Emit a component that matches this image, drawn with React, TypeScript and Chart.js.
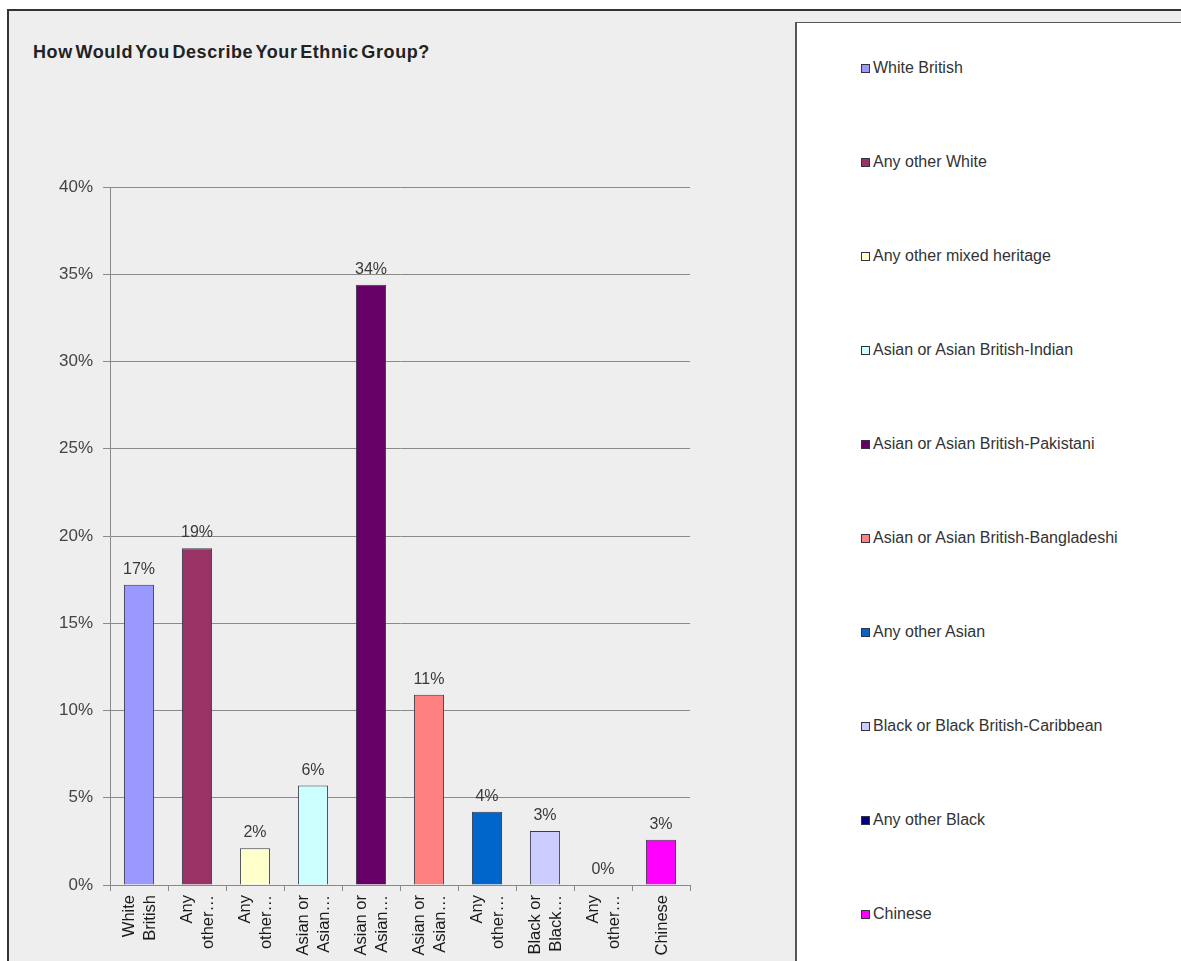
import React, { useEffect, useRef } from "react";
import { Chart, registerables } from "chart.js";

Chart.register(...registerables);

const categories = [
  "White British",
  "Any other White",
  "Any other mixed heritage",
  "Asian or Asian British-Indian",
  "Asian or Asian British-Pakistani",
  "Asian or Asian British-Bangladeshi",
  "Any other Asian",
  "Black or Black British-Caribbean",
  "Any other Black",
  "Chinese",
];

const tickLabels = [
  ["White", "British"],
  ["Any", "other…"],
  ["Any", "other…"],
  ["Asian or", "Asian…"],
  ["Asian or", "Asian…"],
  ["Asian or", "Asian…"],
  ["Any", "other…"],
  ["Black or", "Black…"],
  ["Any", "other…"],
  ["Chinese"],
];

const values = [17.2, 19.3, 2.1, 5.7, 34.4, 10.9, 4.2, 3.1, 0, 2.6];

const colors = [
  "#9999FF",
  "#993366",
  "#FFFFCC",
  "#CCFFFF",
  "#660066",
  "#FF8080",
  "#0066CC",
  "#CCCCFF",
  "#000080",
  "#FF00FF",
];

const yTicks = [0, 5, 10, 15, 20, 25, 30, 35, 40];

const FONT = "'Liberation Sans', Arial, sans-serif";

const valueLabels = {
  id: "valueLabels",
  afterDatasetsDraw(chart: any) {
    const ctx = chart.ctx;
    const meta = chart.getDatasetMeta(0);
    ctx.save();
    ctx.font = `16px ${FONT}`;
    ctx.fillStyle = "#3a3a3a";
    ctx.textAlign = "center";
    ctx.textBaseline = "alphabetic";
    meta.data.forEach((bar: any, i: number) => {
      ctx.fillText(Math.round(values[i]) + "%", bar.x, bar.y - 11);
    });
    ctx.restore();
  },
};

const xLabels = {
  id: "xLabels",
  afterDraw(chart: any) {
    const ctx = chart.ctx;
    const xs = chart.scales.x;
    const lh = 21;
    ctx.save();
    ctx.font = `16.5px ${FONT}`;
    ctx.fillStyle = "#1a1a1a";
    ctx.textAlign = "right";
    ctx.textBaseline = "middle";
    tickLabels.forEach((lines, i) => {
      const cx = xs.getPixelForTick(i) + 1;
      const y = xs.top + 10;
      lines.forEach((line, j) => {
        const off = (j - (lines.length - 1) / 2) * lh;
        ctx.save();
        ctx.translate(cx + off, y);
        ctx.rotate(-Math.PI / 2);
        ctx.fillText(line, 0, 0);
        ctx.restore();
      });
    });
    ctx.restore();
  },
};

export default function App() {
  const ref = useRef<HTMLCanvasElement>(null);

  useEffect(() => {
    if (!ref.current) return;
    const chart = new Chart(ref.current, {
      type: "bar",
      data: {
        labels: categories,
        datasets: [
          {
            data: values,
            backgroundColor: colors,
            borderColor: "#3a3a4a",
            borderWidth: 1,
            barPercentage: 0.52,
            categoryPercentage: 1,
          },
        ],
      },
      options: {
        animation: false,
        responsive: false,
        maintainAspectRatio: false,
        layout: { padding: { top: 187, right: 105, left: 0, bottom: 0 } },
        plugins: {
          legend: { display: false },
          tooltip: { enabled: false },
          title: { display: false },
        },
        scales: {
          x: {
            afterFit(scale: any) {
              scale.height = 76;
            },
            grid: {
              display: true,
              drawOnChartArea: false,
              drawTicks: true,
              tickLength: 6,
              color: "#888888",
              offset: true,
            },
            border: { display: true, color: "#888888", width: 1 },
            ticks: {
              display: false,
              autoSkip: false,
            },
          },
          y: {
            min: 0,
            max: 40,
            afterFit(scale: any) {
              scale.width = 110;
            },
            afterBuildTicks(scale: any) {
              scale.ticks = yTicks.map((v) => ({ value: v }));
            },
            grid: {
              color: "#8a8a8a",
              lineWidth: 1,
              tickLength: 7,
            },
            border: { display: true, color: "#8a8a8a", width: 1 },
            ticks: {
              padding: 10,
              color: "#444444",
              font: { family: FONT, size: 17 },
              callback: (v: any) => v + "%",
            },
          },
        },
      },
      plugins: [valueLabels, xLabels],
    });
    return () => chart.destroy();
  }, []);

  const legendTops = categories.map((_, i) => 68 + i * 94.0);

  return (
    <div
      style={{
        position: "absolute",
        left: 0,
        top: 0,
        width: 1181,
        height: 961,
        overflow: "hidden",
        background: "#ffffff",
        fontFamily: FONT,
      }}
    >
      <div
        style={{
          position: "absolute",
          left: 7,
          top: 9,
          width: 1181,
          height: 961,
          background: "#eeeeee",
          borderLeft: "2px solid #333333",
          borderTop: "2px solid #333333",
        }}
      />
      <div
        style={{
          position: "absolute",
          left: 795,
          top: 22,
          width: 500,
          height: 1000,
          background: "#ffffff",
          borderLeft: "2px solid #555555",
          borderTop: "1px solid #555555",
        }}
      />
      <div
        style={{
          position: "absolute",
          left: 33,
          top: 41,
          fontSize: 18,
          fontWeight: "bold",
          letterSpacing: 0.6,
          wordSpacing: -3,
          color: "#222222",
          whiteSpace: "nowrap",
          lineHeight: "22px",
        }}
      >
        How Would You Describe Your Ethnic Group?
      </div>
      <canvas
        ref={ref}
        width={795}
        height={961}
        style={{ position: "absolute", left: 0, top: 0, width: 795, height: 961 }}
      />
      {categories.map((c, i) => (
        <div
          key={c}
          style={{
            position: "absolute",
            left: 861,
            top: legendTops[i] - 10,
            height: 20,
            display: "flex",
            alignItems: "center",
            fontSize: 16,
            color: "#333333",
            whiteSpace: "nowrap",
          }}
        >
          <span
            style={{
              display: "inline-block",
              width: 7,
              height: 7,
              background: colors[i],
              border: "1px solid #333344",
              marginRight: 3,
            }}
          />
          {c}
        </div>
      ))}
    </div>
  );
}
